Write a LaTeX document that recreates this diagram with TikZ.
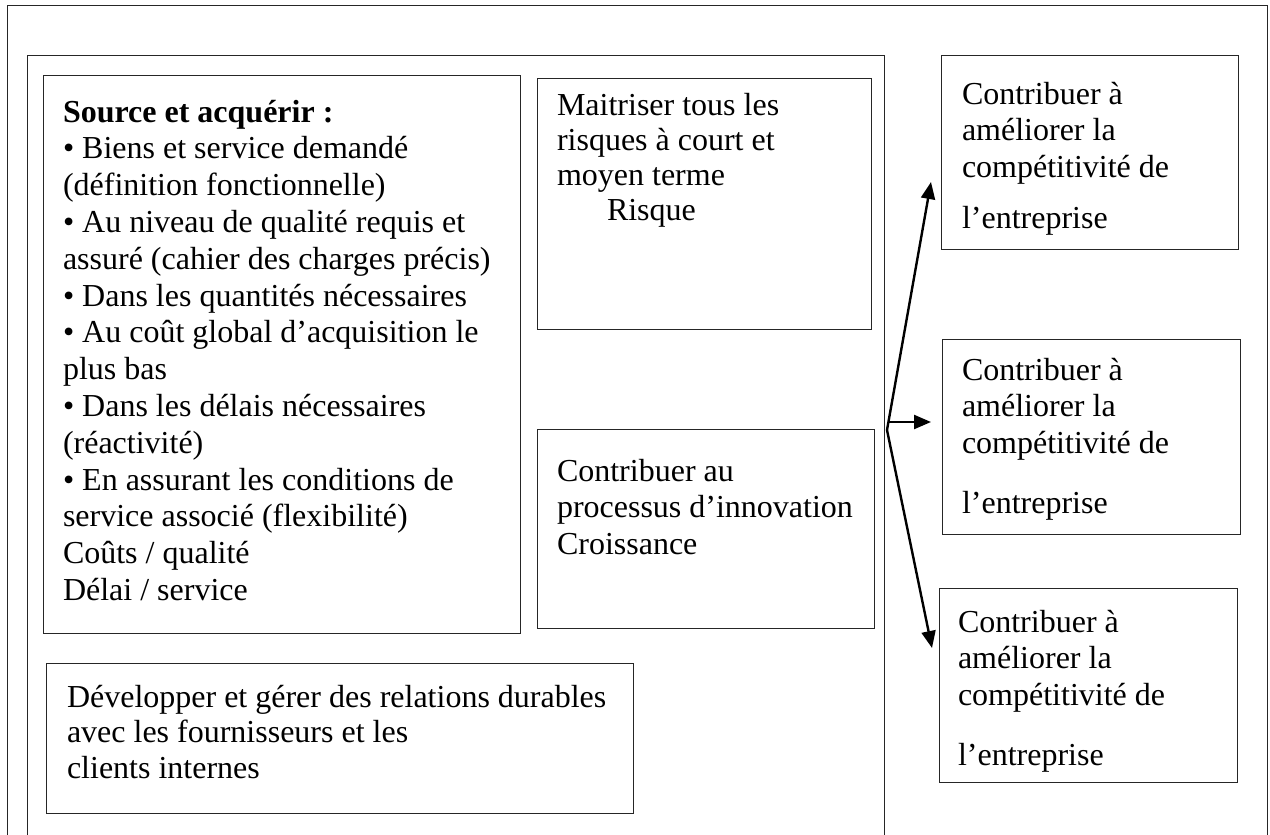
\documentclass[tikz,border=0pt]{standalone}
\usepackage{fontspec}
\setmainfont{Liberation Serif}
\usetikzlibrary{arrows.meta}
% fixed height for the first line of every text block
\newcommand\firstln{\rule{0pt}{25pt}}
\begin{document}
\begin{tikzpicture}[x=1pt,y=-1pt,
  frame/.style={line width=1pt, draw=black!85},
  box/.style={draw=black!85, line width=1pt, rectangle, inner sep=0pt,
    outer sep=0pt, anchor=north west},
  txt/.style={anchor=north west, inner sep=0pt, outer sep=0pt, align=left,
    font=\fontsize{32}{36.8}\selectfont},
  flow/.style={line width=2.4pt, -{Triangle[length=17pt,width=14pt]}}]
\useasboundingbox (0,0) rectangle (1270,835);

% outer and inner frames, open at the bottom
\draw[frame] (7,835) -- (7,5) -- (1267,5) -- (1267,835);
\draw[frame] (27,835) -- (27,55) -- (884,55) -- (884,835);

% boxes
\node[box, minimum width=477pt, minimum height=558pt] (src) at (43,75) {};
\node[box, minimum width=334pt, minimum height=251pt] (risk) at (537,78) {};
\node[box, minimum width=337pt, minimum height=199pt] (innov) at (537,429) {};
\node[box, minimum width=587pt, minimum height=150pt] (rel) at (46,663) {};
\node[box, minimum width=297pt, minimum height=194pt] (c1) at (941,55) {};
\node[box, minimum width=298pt, minimum height=195pt] (c2) at (942,339) {};
\node[box, minimum width=298pt, minimum height=194pt] (c3) at (939,588) {};

% texts
\node[txt] (srctext) at (63,97) {\firstln\textbf{Source et acquérir :}\\
\textbullet{} Biens et service demandé\\
(définition fonctionnelle)\\
\textbullet{} Au niveau de qualité requis et\\
assuré (cahier des charges précis)\\
\textbullet{} Dans les quantités nécessaires\\
\textbullet{} Au coût global d’acquisition le\\
plus bas\\
\textbullet{} Dans les délais nécessaires\\
(réactivité)\\
\textbullet{} En assurant les conditions de\\
service associé (flexibilité)\\
Coûts / qualité\\
Délai / service};

\node[txt, font=\fontsize{32}{35}\selectfont] (risktext) at (557,90)
  {\firstln Maitriser tous les\\
risques à court et\\
moyen terme\\
\hspace*{50pt}Risque};

\node[txt] (innovtext) at (557,456) {\firstln Contribuer au\\
processus d’innovation\\
Croissance};

\node[txt, font=\fontsize{32}{35.5}\selectfont] (reltext) at (67,682)
  {\firstln Développer et gérer des relations durables\\
avec les fournisseurs et les\\
clients internes};

\node[txt] (c1text) at (962,79) {\firstln Contribuer à\\
améliorer la\\
compétitivité de\\[14pt]
l’entreprise};
\node[txt] (c2text) at (962,355) {\firstln Contribuer à\\
améliorer la\\
compétitivité de\\[23pt]
l’entreprise};
\node[txt] (c3text) at (958,607) {\firstln Contribuer à\\
améliorer la\\
compétitivité de\\[23pt]
l’entreprise};

% connectors fanning out to the three boxes on the right
\coordinate (hub) at (887,430);
\coordinate (fork) at (888,422);
\coordinate (t1) at (931,182);
\coordinate (t2) at (931,422);
\coordinate (t3) at (932,648);
\draw[flow] (hub) -- (t1);
\draw[flow] (hub) -- (t3);
\draw[flow] (fork) -- (t2);
\end{tikzpicture}
\end{document}
